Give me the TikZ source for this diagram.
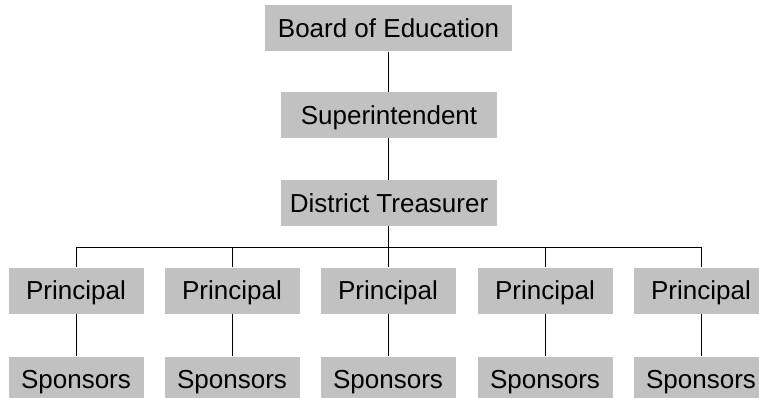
\documentclass[tikz,border=0pt]{standalone}
\usepackage{fontspec}
\setmainfont{Liberation Sans}
\definecolor{boxgray}{RGB}{193,193,193}
\begin{document}
\begin{tikzpicture}[x=1pt,y=1pt,
  box/.style={fill=boxgray, inner sep=0pt, minimum height=46pt,
    text height=18.6pt, text depth=0pt, font=\fontsize{26}{30}\selectfont},
  smallbox/.style={box, minimum width=135pt},
  conn/.style={draw=black, line width=0.9pt}]
\useasboundingbox (0,0) rectangle (759,-398);
\clip (0,0) rectangle (759,-398);
\node[box, minimum width=247pt] (board) at (388.5,-28.5) {Board of Education};
\node[box, minimum width=216pt] (sup) at (389,-115) {Superintendent};
\node[box, minimum width=216pt] (dt) at (389,-203) {District Treasurer};
\coordinate (bus) at (388,-247);
\foreach \i/\x in {1/76,2/232,3/388,4/545,5/701}{
  \node[smallbox] (p\i) at (\x,-290.5) {Principal};
  \node[smallbox] (s\i) at (\x,-379.5) {Sponsors};
}
\draw[conn] (388,0 |- board.south) -- (388,0 |- sup.north);
\draw[conn] (388,0 |- sup.south) -- (388,0 |- dt.north);
\draw[conn] (388,0 |- dt.south) -- (bus);
\draw[conn] (p1.north |- bus) -- (p5.north |- bus);
\foreach \i in {1,...,5}{
  \draw[conn] (p\i.north |- bus) -- (p\i.north);
  \draw[conn] (p\i.south) -- (s\i.north);
}
\end{tikzpicture}
\end{document}
